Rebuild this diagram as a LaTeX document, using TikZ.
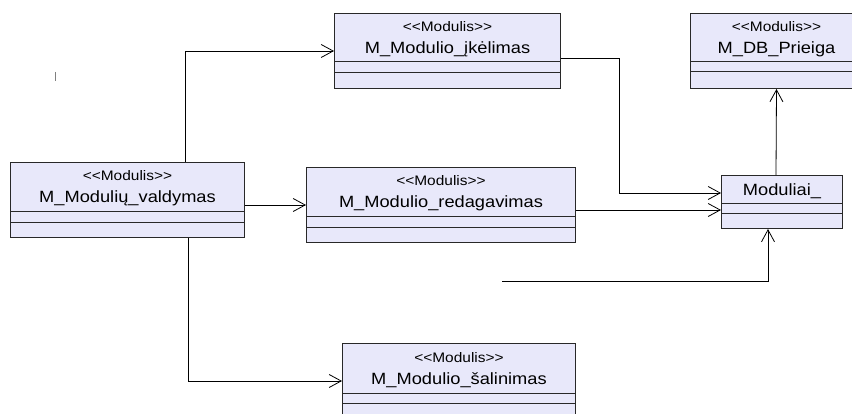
\documentclass[tikz,border=0pt]{standalone}
\usepackage{fontspec}
\setmainfont{Liberation Sans}[FakeStretch=1.12]
\usepackage{tikz}
\usepackage{xcolor}
\definecolor{lavendel}{RGB}{232,232,250}
\definecolor{rembas}{RGB}{40,40,40}
\usetikzlibrary{positioning, calc, arrows.meta}
\tikzstyle{Modul} = [
draw=rembas,
line width=1pt,
fill=lavendel,
anchor=north west,
inner sep=0pt,
minimum height=75pt]
\tikzstyle{Stereo} = [
anchor=base,
inner sep=0pt,
font=\fontsize{13.8}{14}\selectfont]
\tikzstyle{Pav} = [
anchor=base,
inner sep=0pt,
font=\fontsize{16.3}{17}\selectfont]
\tikzstyle{Arrow} = [
line width=0.8pt,
-{Straight Barb[length=12pt, width=13pt]}]
\tikzstyle{Skirtukas} = [draw=rembas, line width=1pt]
\newcommand{\skyrius}[3]{
    \draw[Skirtukas] ($(#1.north west)+(0,#2)$) -- ($(#1.north east)+(0,#2)$);
    \draw[Skirtukas] ($(#1.north west)+(0,#3)$) -- ($(#1.north east)+(0,#3)$);}
\newcommand{\stereotipas}{{<}{<}Modulis{>}{>}}

\begin{document}
\begin{tikzpicture}[x=1pt, y=-1pt]
    \useasboundingbox (0,0) rectangle (852,414);

    \node[Modul, minimum width=234pt] (valdymas) at (10,162) {};
    \node[Modul, minimum width=226pt] (ikelimas) at (334,13) {};
    \node[Modul, minimum width=172pt] (prieiga) at (690,13) {};
    \node[Modul, minimum width=269pt] (redag) at (306,167) {};
    \node[Modul, minimum width=121pt, minimum height=53pt] (moduliai) at (721,175) {};
    \node[Modul, minimum width=233pt] (salinimas) at (342,343) {};

    \skyrius{valdymas}{50}{61}
    \skyrius{ikelimas}{49}{60}
    \skyrius{prieiga}{49}{59}
    \skyrius{redag}{50}{61}
    \skyrius{moduliai}{29}{39}
    \skyrius{salinimas}{50}{60}

    \node[Stereo] at ($(valdymas.north)+(0,19)$) {\stereotipas};
    \node[Pav] at ($(valdymas.north)+(0,41)$) {M\_Modulių\_valdymas};
    \node[Stereo] at ($(ikelimas.north)+(0,19)$) {\stereotipas};
    \node[Pav] at ($(ikelimas.north)+(0,41)$) {M\_Modulio\_įkėlimas};
    \node[Stereo] at ($(prieiga.north)+(0,19)$) {\stereotipas};
    \node[Pav] at ($(prieiga.north)+(0,41)$) {M\_DB\_Prieiga};
    \node[Stereo] at ($(redag.north)+(0,19)$) {\stereotipas};
    \node[Pav] at ($(redag.north)+(0,41)$) {M\_Modulio\_redagavimas};
    \node[Pav] at ($(moduliai.north)+(0,21)$) {Moduliai\_};
    \node[Stereo] at ($(salinimas.north)+(0,19)$) {\stereotipas};
    \node[Pav] at ($(salinimas.north)+(0,41)$) {M\_Modulio\_šalinimas};

    \coordinate (laisvas) at (502,281);

    \draw[Arrow] ($(valdymas.north west)+(175,0)$) |- (ikelimas.west);
    \draw[Arrow] (valdymas.east |- redag.west) -- (redag.west);
    \draw[Arrow] ($(valdymas.south west)+(178,0)$) |- (salinimas.west);
    \draw[Arrow] ($(ikelimas.north east)+(0,45)$) -- ++(58,0)
        |- ($(moduliai.north west)+(0,18)$);
    \draw[Arrow] ($(redag.north east)+(0,43)$) -- ($(moduliai.north west)+(0,35)$);
    \draw[Arrow] (laisvas) -| ($(moduliai.south west)+(47,0)$);
    \draw[Arrow] ($(moduliai.north west)+(55,0)$) -- (prieiga.south);

    \draw[gray, line width=0.8pt] (55,72) -- (55,81);
\end{tikzpicture}
\end{document}
